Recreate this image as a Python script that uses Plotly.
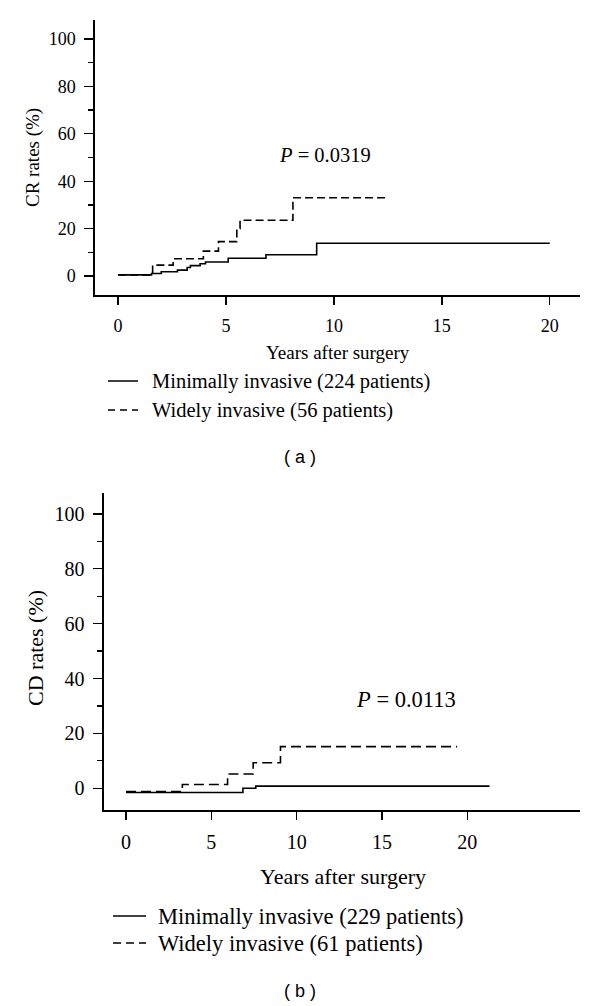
import plotly.graph_objects as go

W, H = 600, 1006

# ---- Panel (a): CR rates ----
a_min_t = [0, 1.55, 2.0, 2.75, 3.2, 3.35, 3.8, 4.05, 5.1, 6.85, 9.2, 20.0]
a_min_v = [0.5, 1.1, 1.8, 2.5, 3.6, 4.4, 5.2, 5.9, 7.5, 9.0, 13.8, 13.8]
a_wid_t = [0, 1.6, 2.55, 3.95, 4.65, 5.5, 5.65, 8.1, 12.4]
a_wid_v = [0.5, 4.6, 7.3, 10.5, 14.5, 20.0, 23.5, 33.0, 33.0]

# ---- Panel (b): CD rates ----
b_min_t = [0, 6.85, 7.6, 21.3]
b_min_v = [-1.5, 0.0, 0.8, 0.8]
b_wid_t = [0, 3.3, 5.95, 7.45, 9.05, 19.4]
b_wid_v = [-1.2, 1.4, 5.2, 9.3, 15.2, 15.2]

xticks = [0, 5, 10, 15, 20]
yticks = [0, 20, 40, 60, 80, 100]

label_a = ["Minimally invasive (224 patients)", "Widely invasive (56 patients)"]
label_b = ["Minimally invasive (229 patients)", "Widely invasive (61 patients)"]

SERIF = "Liberation Serif, Times New Roman, serif"

def px_x(p):
    return p / W

def px_y(p):
    return 1 - p / H

fig = go.Figure()

fig.add_trace(go.Scatter(x=a_min_t, y=a_min_v, mode="lines", line=dict(shape="hv", color="black", width=1.6),
                         showlegend=False, hoverinfo="skip", xaxis="x", yaxis="y"))
fig.add_trace(go.Scatter(x=a_wid_t, y=a_wid_v, mode="lines", line=dict(shape="hv", color="black", width=1.6, dash="8px,4px"),
                         showlegend=False, hoverinfo="skip", xaxis="x", yaxis="y"))
fig.add_trace(go.Scatter(x=b_min_t, y=b_min_v, mode="lines", line=dict(shape="hv", color="black", width=1.6),
                         showlegend=False, hoverinfo="skip", xaxis="x2", yaxis="y2"))
fig.add_trace(go.Scatter(x=b_wid_t, y=b_wid_v, mode="lines", line=dict(shape="hv", color="black", width=1.6, dash="10px,5px"),
                         showlegend=False, hoverinfo="skip", xaxis="x2", yaxis="y2"))

axis_common = dict(showline=True, linecolor="black", linewidth=1.6, showgrid=False, zeroline=False,
                   ticks="outside", tickcolor="black", tickwidth=1.4, mirror=False, tickmode="array")

fig.update_layout(
    width=W, height=H, margin=dict(l=0, r=0, t=0, b=0),
    paper_bgcolor="white", plot_bgcolor="white",
    xaxis=dict(domain=[px_x(95), px_x(580)], range=[-1.07, 21.4], tickvals=xticks, ticklen=8,
               tickfont=dict(family=SERIF, size=18, color="black"), ticklabelstandoff=6, anchor="y", **axis_common),
    yaxis=dict(domain=[px_y(295), px_y(20)], range=[-8, 108], tickvals=yticks, ticklen=9,
               minor=dict(tickvals=[10, 30, 50, 70, 90], ticklen=5, ticks="outside", tickcolor="black", tickwidth=1.2),
               tickfont=dict(family=SERIF, size=18, color="black"), ticklabelstandoff=5, anchor="x", **axis_common),
    xaxis2=dict(domain=[px_x(104), px_x(580)], range=[-1.29, 26.6], tickvals=xticks, ticklen=8,
                tickfont=dict(family=SERIF, size=20, color="black"), ticklabelstandoff=5, anchor="y2", **axis_common),
    yaxis2=dict(domain=[px_y(810), px_y(493)], range=[-7.9, 107.6], tickvals=yticks, ticklen=9,
                minor=dict(tickvals=[10, 30, 50, 70, 90], ticklen=5, ticks="outside", tickcolor="black", tickwidth=1.2),
                tickfont=dict(family=SERIF, size=20, color="black"), ticklabelstandoff=5, anchor="x2", **axis_common),
)

ann = []
def text(x, y, s, size, family=SERIF, xanchor="center", angle=0):
    ann.append(dict(x=px_x(x), y=px_y(y), xref="paper", yref="paper", text=s, showarrow=False,
                    xanchor=xanchor, yanchor="middle", textangle=angle,
                    font=dict(family=family, size=size, color="black")))

# axis titles
text(33, 158, "CR rates (%)", 19, angle=-90)
text(338, 352, "Years after surgery", 19)
text(35, 648, "CD rates (%)", 22, angle=-90)
text(343, 876, "Years after surgery", 22)

# P values (placed in data coords)
ann.append(dict(x=9.6, y=51, xref="x", yref="y", text="<i>P</i> = 0.0319", showarrow=False,
                font=dict(family=SERIF, size=20.5, color="black")))
ann.append(dict(x=16.4, y=32.5, xref="x2", yref="y2", text="<i>P</i> = 0.0113", showarrow=False,
                font=dict(family=SERIF, size=22.5, color="black")))

# legends
text(150, 381, label_a[0], 20.5, xanchor="left")
text(150, 410, label_a[1], 20.5, xanchor="left")
text(156, 916, label_b[0], 22.5, xanchor="left")
text(156, 943, label_b[1], 22.5, xanchor="left")

# panel labels
text(300, 457, "( a )", 18, family="Liberation Sans, Arial, sans-serif")
text(300, 991, "( b )", 18, family="Liberation Sans, Arial, sans-serif")

fig.update_layout(annotations=ann)

shapes = []
def seg(x0, x1, y, dash="solid"):
    shapes.append(dict(type="line", xref="paper", yref="paper", x0=px_x(x0), x1=px_x(x1), y0=px_y(y), y1=px_y(y),
                       line=dict(color="black", width=1.5, dash=dash)))
seg(108, 138, 381)
seg(108, 138, 410, "7px,5px")
seg(113, 146, 916)
seg(113, 146, 943, "8px,5px")
fig.update_layout(shapes=shapes)

fig.write_html("out.html", config={"displayModeBar": False, "staticPlot": True},
               post_script="document.body.style.margin='0';document.body.style.overflow='hidden';")
